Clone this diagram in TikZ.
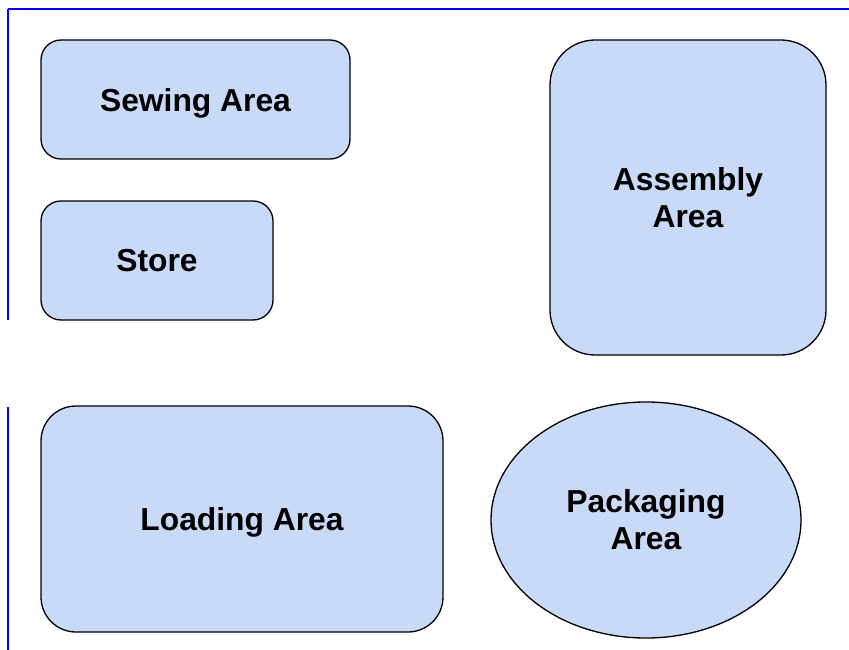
\documentclass[tikz,border=0pt]{standalone}
\usepackage{fontspec}
\setmainfont{Liberation Sans}
\usetikzlibrary{shapes.geometric}

\definecolor{areablue}{HTML}{C9DAF8}
\tikzset{
  area/.style={draw=black,line width=1.3pt,fill=areablue,
    rounded corners=#1,inner sep=0pt,align=center,
    font=\fontsize{31.8}{37}\selectfont\bfseries},
  area/.default=20pt,
  frameline/.style={blue,line width=2.6pt}
}

\begin{document}
\begin{tikzpicture}[x=1pt,y=-1pt]
            \useasboundingbox (0,0) rectangle (849,650);

            % frame lines, the left one broken in the middle
            \draw [frameline] (8,9) -- (849,9);
            \draw [frameline] (8,9) -- (8,320);
            \draw [frameline] (8,407) -- (8,650);

            \node [area,minimum width=309pt,minimum height=119pt,text depth=0pt]
               (sewing) at (195.5,99.5) {Sewing Area};
            \node [area,minimum width=232pt,minimum height=119pt]
               (store) at (157,260.5) {Store};
            \node [area=45pt,minimum width=276pt,minimum height=315pt]
               (assembly) at (688,197.5) {Assembly\\Area};
            \node [area=35pt,minimum width=402pt,minimum height=226pt,text depth=0pt]
               (loading) at (242,519) {Loading Area};
            \node [area,ellipse,minimum width=310pt,minimum height=236pt]
               (packaging) at (646,520) {Packaging\\Area};
         \end{tikzpicture}
\end{document}
